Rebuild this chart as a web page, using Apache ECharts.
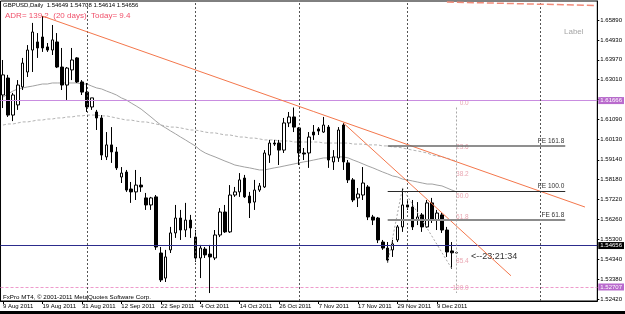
<!DOCTYPE html>
<html>
<head>
<meta charset="utf-8">
<script src="https://cdn.jsdelivr.net/npm/echarts@6/dist/echarts.min.js"></script>
<style>
  html, body { margin: 0; padding: 0; background: #fff; }
  #main { width: 625px; height: 314px; }
</style>
</head>
<body>
<div id="main"></div>
<script>
// GBPUSD daily, 9 Aug 2011 .. 15 Dec 2011 (one entry per bar)
const dateLabels = ['9 Aug 2011', '19 Aug 2011', '31 Aug 2011', '12 Sep 2011', '22 Sep 2011', '4 Oct 2011',
  '14 Oct 2011', '26 Oct 2011', '7 Nov 2011', '17 Nov 2011', '29 Nov 2011', '9 Dec 2011'];

const opens = [1.6227, 1.6309, 1.6130, 1.6179, 1.6266, 1.6338, 1.6444, 1.6483, 1.6507, 1.6459,
  1.6444, 1.6483, 1.6362, 1.6275, 1.6348, 1.6406, 1.6290, 1.6241, 1.6169, 1.6145,
  1.6116, 1.5928, 1.5986, 1.5952, 1.5831, 1.5855, 1.5773, 1.5759, 1.5792, 1.5730,
  1.5696, 1.5735, 1.5464, 1.5343, 1.5479, 1.5561, 1.5633, 1.5575, 1.5623, 1.5541,
  1.5440, 1.5483, 1.5459, 1.5440, 1.5551, 1.5662, 1.5566, 1.5744, 1.5759, 1.5826,
  1.5739, 1.5710, 1.5768, 1.5783, 1.5937, 1.5995, 1.5995, 1.5961, 1.6092, 1.6121,
  1.6068, 1.5947, 1.5947, 1.6048, 1.6063, 1.6048, 1.6072, 1.5904, 1.5923, 1.6082,
  1.5899, 1.5817, 1.5730, 1.5744, 1.5783, 1.5638, 1.5633, 1.5517, 1.5488, 1.5479,
  1.5527, 1.5590, 1.5696, 1.5686, 1.5623, 1.5648, 1.5590, 1.5706, 1.5623, 1.5648,
  1.5575, 1.5474, 1.54649];
const highs = [1.6396, 1.6324, 1.6237, 1.6299, 1.6406, 1.6468, 1.6575, 1.6526, 1.6608, 1.6478,
  1.6565, 1.6526, 1.6454, 1.6362, 1.6454, 1.6410, 1.6299, 1.6285, 1.6213, 1.6155,
  1.6130, 1.6048, 1.6072, 1.5976, 1.5879, 1.5865, 1.5807, 1.5865, 1.5831, 1.5754,
  1.5735, 1.5744, 1.5493, 1.5479, 1.5590, 1.5696, 1.5672, 1.5706, 1.5648, 1.5575,
  1.5503, 1.5493, 1.5503, 1.5575, 1.5681, 1.5696, 1.5792, 1.5783, 1.5850, 1.5841,
  1.5759, 1.5817, 1.5802, 1.5961, 1.6010, 1.6010, 1.6010, 1.6116, 1.6145, 1.61666,
  1.6072, 1.5971, 1.6048, 1.6082, 1.6072, 1.6121, 1.6082, 1.5961, 1.6072, 1.6092,
  1.5913, 1.5826, 1.5778, 1.5879, 1.5792, 1.5648, 1.5638, 1.5527, 1.5517, 1.5527,
  1.5599, 1.5778, 1.5720, 1.5720, 1.5710, 1.5657, 1.5720, 1.5730, 1.5672, 1.5657,
  1.5590, 1.5517, 1.54708];
const lows = [1.6164, 1.6121, 1.6101, 1.6155, 1.6251, 1.6314, 1.6338, 1.6406, 1.6435, 1.6435,
  1.6420, 1.6357, 1.6251, 1.6203, 1.6299, 1.6285, 1.6227, 1.6145, 1.6155, 1.6058,
  1.5913, 1.5913, 1.5899, 1.5865, 1.5802, 1.5759, 1.5706, 1.5720, 1.5759, 1.5672,
  1.5672, 1.5479, 1.5324, 1.5324, 1.5464, 1.5537, 1.5527, 1.5541, 1.5537, 1.5421,
  1.5343, 1.5440, 1.52707, 1.5430, 1.5541, 1.5561, 1.5561, 1.5735, 1.5735, 1.5730,
  1.5633, 1.5672, 1.5759, 1.5778, 1.5899, 1.5981, 1.5889, 1.5947, 1.6072, 1.6048,
  1.5889, 1.5913, 1.5875, 1.6010, 1.6034, 1.6044, 1.5875, 1.5865, 1.5904, 1.5865,
  1.5802, 1.5710, 1.5686, 1.5720, 1.5623, 1.5599, 1.5512, 1.5479, 1.5416, 1.5445,
  1.5517, 1.5566, 1.5672, 1.5575, 1.5599, 1.5566, 1.5585, 1.5609, 1.5575, 1.5561,
  1.5445, 1.5388, 1.54614];
const closes = [1.6324, 1.6130, 1.6227, 1.6275, 1.6381, 1.6444, 1.6531, 1.6454, 1.6454, 1.6444,
  1.6493, 1.6362, 1.6275, 1.6357, 1.6396, 1.6290, 1.6241, 1.6169, 1.6213, 1.6116,
  1.5937, 1.5986, 1.5952, 1.5875, 1.5850, 1.5768, 1.5759, 1.5792, 1.5783, 1.5696,
  1.5730, 1.5493, 1.5334, 1.5445, 1.5561, 1.5633, 1.5575, 1.5623, 1.5585, 1.5440,
  1.5488, 1.5455, 1.5445, 1.5551, 1.5662, 1.5566, 1.5744, 1.5759, 1.5817, 1.5735,
  1.5706, 1.5768, 1.5788, 1.5947, 1.5995, 1.5990, 1.5961, 1.6092, 1.6121, 1.6072,
  1.5947, 1.5942, 1.6024, 1.6034, 1.6053, 1.6082, 1.5913, 1.5928, 1.6058, 1.5904,
  1.5817, 1.5720, 1.5749, 1.5802, 1.5638, 1.5623, 1.5527, 1.5488, 1.5430, 1.5508,
  1.5590, 1.5696, 1.5686, 1.5590, 1.5638, 1.5590, 1.5706, 1.5623, 1.5657, 1.5575,
  1.5469, 1.5465, 1.54656];

// moving averages
const maMid = [1.6217, 1.6232, 1.6246, 1.6256, 1.6261, 1.6266, 1.6270, 1.6275, 1.6280, 1.6280,
  1.6285, 1.6285, 1.6285, 1.6285, 1.6285, 1.6285, 1.6280, 1.6280, 1.6270, 1.6261,
  1.6256, 1.6246, 1.6237, 1.6227, 1.6213, 1.6203, 1.6188, 1.6174, 1.6159, 1.6140,
  1.6121, 1.6101, 1.6082, 1.6068, 1.6053, 1.6039, 1.6024, 1.6010, 1.5995, 1.5981,
  1.5961, 1.5947, 1.5937, 1.5928, 1.5918, 1.5908, 1.5899, 1.5889, 1.5884, 1.5879,
  1.5875, 1.5870, 1.5865, 1.5865, 1.5870, 1.5875, 1.5879, 1.5884, 1.5889, 1.5894,
  1.5899, 1.5904, 1.5908, 1.5913, 1.5918, 1.5923, 1.5923, 1.5928, 1.5928, 1.5928,
  1.5923, 1.5913, 1.5904, 1.5894, 1.5884, 1.5875, 1.5865, 1.5855, 1.5846, 1.5836,
  1.5831, 1.5821, 1.5817, 1.5812, 1.5807, 1.5802, 1.5797, 1.5797, 1.5792, 1.5788,
  1.5778, 1.5768, 1.5759];
const maSlow = [1.6082, 1.6087, 1.6087, 1.6092, 1.6097, 1.6097, 1.6101, 1.6106, 1.6106, 1.6111,
  1.6111, 1.6116, 1.6116, 1.6121, 1.6121, 1.6126, 1.6126, 1.6130, 1.6130, 1.6130,
  1.6126, 1.6126, 1.6121, 1.6116, 1.6111, 1.6106, 1.6106, 1.6101, 1.6097, 1.6097,
  1.6092, 1.6087, 1.6082, 1.6077, 1.6072, 1.6072, 1.6068, 1.6063, 1.6058, 1.6058,
  1.6053, 1.6048, 1.6044, 1.6044, 1.6039, 1.6034, 1.6034, 1.6029, 1.6024, 1.6024,
  1.6019, 1.6019, 1.6015, 1.6010, 1.6010, 1.6010, 1.6005, 1.6005, 1.6005, 1.6000,
  1.6000, 1.6000, 1.6000, 1.6000, 1.6000, 1.5995, 1.5995, 1.5995, 1.5995, 1.5995,
  1.5995, 1.5990, 1.5990, 1.5990, 1.5986, 1.5986, 1.5986, 1.5981, 1.5981, 1.5976,
  1.5976, 1.5971, 1.5966, 1.5961, 1.5957, 1.5952, 1.5947, 1.5937, 1.5932, 1.5928,
  1.5923, 1.5913, 1.5908];

const priceTicks = [1.6589, 1.6493, 1.6397, 1.6301, 1.6205, 1.6109, 1.6013, 1.5914,
  1.5818, 1.5722, 1.5626, 1.5530, 1.5434, 1.5338, 1.5242];
const fibLevels = [1.61666, 1.59552, 1.58244, 1.57187, 1.56129, 1.54015, 1.52707];
const fibNames = ['0.0', '23.6', '38.2', '50.0', '61.8', '85.4', '100.0'];
const feLevels = [1.59807, 1.57634, 1.56258];
const feNames = ['FE 161.8', 'FE 100.0', 'FE 61.8'];
const separators = [17, 39, 60, 82, 109];
const bid = 1.54656;

const N = 121; // bars incl. empty space on the right
const cats = [];
for (let i = 0; i < N; i++) cats.push(String(i));
const last = opens.length - 1;
const yMin = 1.52323, yMax = 1.66808;

const candles = opens.map((o, i) => [o, closes[i], lows[i], highs[i]]);

const font = 'Liberation Sans';
const showLbl = (i) => i % 8 === 0 && i <= last;

function hline(v, color, type, boxColor) {
  return {
    yAxis: v,
    lineStyle: { color: color, type: type, width: 1 },
    label: {
      show: true, position: 'end', distance: 1, formatter: v.toFixed(5),
      backgroundColor: boxColor, color: '#fff', fontSize: 6, fontFamily: font, padding: [1, 2, 0, 2]
    }
  };
}
function seg(x1, y1, x2, y2, style) {
  return [{ coord: [String(x1), y1], lineStyle: style }, { coord: [String(x2), y2] }];
}

const coral = { color: '#f4774c', width: 1, type: 'solid' };
const dotGray = { color: '#a8a8a8', width: 1, type: [2, 2] };
const feStyles = [
  { color: '#6a6a6a', width: 1.5, type: 'solid' },
  { color: '#2a2a2a', width: 1, type: 'solid' },
  { color: '#8c8c8c', width: 2, type: 'solid' }
];

const lines = [
  hline(fibLevels[0], '#c98de0', 'solid', '#b96acd'),
  hline(bid, '#2c2c8c', 'solid', '#000'),
  hline(fibLevels[6], '#ee9acb', [3, 2], '#b96acd')
];
separators.forEach(s => lines.push({
  xAxis: String(s), lineStyle: { color: '#555', width: 1, type: [2, 2] }, label: { show: false }
}));
// trend lines
lines.push(seg(8, 1.6608, 118, 1.5686, coral));
lines.push(seg(69, 1.6092, 103, 1.5354, coral));
lines.push(seg(90, 1.6676, 120, 1.6659, { color: '#f28a78', width: 1.5, type: [7, 3] }));
// fibonacci retracement diagonal and expansion swing
lines.push(seg(last, fibLevels[0], last, fibLevels[6], dotGray));
lines.push(seg(78, 1.5416, 81, 1.5778, dotGray));
lines.push(seg(81, 1.5778, 91, 1.5388, dotGray));
feLevels.forEach((v, i) => {
  const s = seg(78, v, 114, v, feStyles[i]);
  s[0].label = {
    show: true, position: 'insideEndTop', distance: 1, formatter: feNames[i],
    color: '#333', fontSize: 6.5, fontFamily: font
  };
  lines.push(s);
});

var chartDom = document.getElementById('main');
var myChart = echarts.init(chartDom, null, { renderer: 'canvas' });

var option = {
  animation: false,
  backgroundColor: '#fff',
  grid: { left: 0, right: 25, top: 1, bottom: 13, show: true, borderColor: '#000', borderWidth: 1 },
  xAxis: {
    type: 'category',
    data: cats,
    boundaryGap: true,
    axisLine: { show: true, lineStyle: { color: '#000', width: 1 } },
    axisTick: { show: true, interval: showLbl, alignWithLabel: true, length: 3, lineStyle: { color: '#000' } },
    axisLabel: {
      interval: showLbl, formatter: (v) => dateLabels[Number(v) / 8], align: 'left',
      fontSize: 6, fontFamily: font, color: '#000', margin: 2
    },
    splitLine: { show: false }
  },
  yAxis: {
    type: 'value',
    position: 'right',
    min: yMin,
    max: yMax,
    splitLine: { show: false },
    axisLine: { show: true, lineStyle: { color: '#000', width: 1 } },
    axisTick: { show: true, customValues: priceTicks, length: 2, lineStyle: { color: '#000' } },
    axisLabel: {
      customValues: priceTicks, formatter: (v) => v.toFixed(5),
      fontSize: 6, fontFamily: font, color: '#000', margin: 3
    }
  },
  series: [
    {
      name: 'MA mid',
      type: 'line',
      data: maMid,
      showSymbol: false,
      silent: true,
      lineStyle: { color: '#a2a2a2', width: 1 },
      z: 1
    },
    {
      name: 'MA slow',
      type: 'line',
      data: maSlow,
      showSymbol: false,
      silent: true,
      lineStyle: { color: '#b4b4b4', width: 1, type: [3, 2] },
      z: 1
    },
    {
      name: 'GBPUSD',
      type: 'candlestick',
      data: candles,
      barWidth: 3,
      z: 3,
      itemStyle: { color: '#fff', color0: '#000', borderColor: '#000', borderColor0: '#000', borderWidth: 1 },
      markLine: {
        silent: true,
        symbol: ['none', 'none'],
        label: { show: false },
        data: lines
      }
    },
    {
      name: 'fib labels',
      type: 'scatter',
      data: fibLevels.map((v, i) => [String(last), v, fibNames[i]]),
      symbolSize: 0.1,
      silent: true,
      itemStyle: { color: 'transparent' },
      label: {
        show: true, formatter: (p) => p.data[2], position: [12, -1], align: 'right', verticalAlign: 'bottom',
        color: '#e4909e', fontSize: 6.5, fontFamily: font
      },
      z: 4
    }
  ],
  graphic: [
    { type: 'text', left: 3, top: 2, style: { text: 'GBPUSD,Daily  1.54649 1.54708 1.54614 1.54656', fontSize: 6, fontFamily: font, fill: '#000' } },
    { type: 'text', left: 5, top: 12, style: { text: 'ADR= 139.2  (20 days)  Today= 9.4', fontSize: 8, fontFamily: font, fill: '#f0506a' } },
    { type: 'text', left: 564, top: 28, style: { text: 'Label', fontSize: 8, fontFamily: font, fill: '#a6a6a6' } },
    { type: 'text', left: 471, top: 252, style: { text: '<--23:21:34', fontSize: 9, fontFamily: font, fill: '#333' } },
    { type: 'text', left: 3, top: 294, style: { text: 'FxPro MT4, \u00a9 2001-2011 MetaQuotes Software Corp.', fontSize: 6.2, fontFamily: font, fill: '#000' } },
    { type: 'rect', left: 0, top: 311, shape: { width: 625, height: 3 }, style: { fill: '#000' } }
  ]
};

option && myChart.setOption(option);
</script>
</body>
</html>
